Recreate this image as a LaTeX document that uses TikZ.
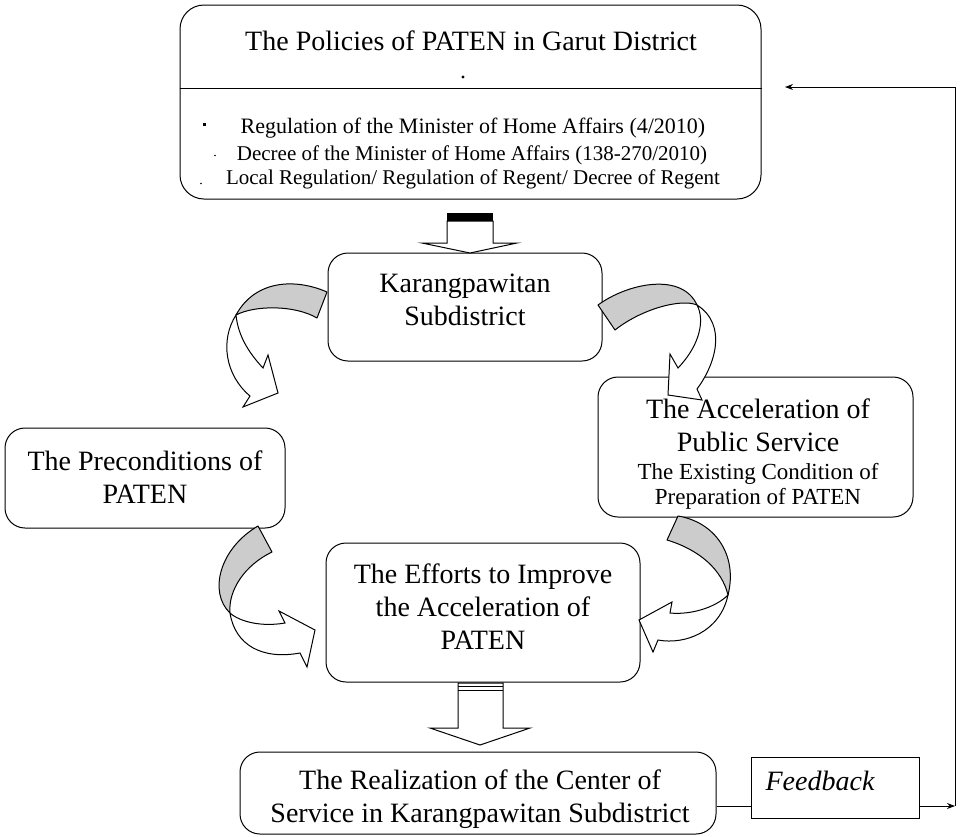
\documentclass[tikz,border=0pt]{standalone}
\usepackage{fontspec}
\setmainfont{Liberation Serif}
\usetikzlibrary{arrows.meta}
\begin{document}
\begin{tikzpicture}[x=1pt,y=-1pt,
  box/.style={draw, line width=1pt, rounded corners=20pt, fill=white, inner sep=0pt},
  plainbox/.style={draw, line width=1pt, fill=white, inner sep=0pt},
  lbl/.style={font=\fontsize{28}{33}\selectfont, align=center, inner sep=0pt},
  lblsmall/.style={font=\fontsize{23}{25}\selectfont, align=center, inner sep=0pt},
  bul/.style={font=\fontsize{21}{25}\selectfont, inner sep=0pt, anchor=base},
  back/.style={draw, line width=1pt, fill=gray!40, line join=round},
  front/.style={draw, line width=1pt, fill=white, line join=miter},
  block/.style={draw, line width=1pt, fill=white, line join=miter},
  conn/.style={draw, line width=1pt},
  tip/.style={-{Stealth[length=8pt,width=6pt]}}
]
\useasboundingbox (0,0) rectangle (960,836);

% ---- boxes
\node[box, rounded corners=24pt, minimum width=581pt, minimum height=194pt] (policy) at (470.5,102) {};
\draw[conn] (policy.west |- 0,88) -- (policy.east |- 0,88);
\node[box, minimum width=274pt, minimum height=108pt] (karang) at (465,307) {};
\node[box, minimum width=280pt, minimum height=100pt] (precond) at (145,478) {};
\node[box, minimum width=315pt, minimum height=140pt] (accel) at (755.5,447) {};
\node[box, minimum width=314pt, minimum height=139pt] (efforts) at (483,612.5) {};
\node[box, minimum width=476pt, minimum height=82pt] (realiz) at (478,793) {};
\node[plainbox, minimum width=168pt, minimum height=61pt] (feedback) at (835,787.5) {};

% ---- block arrows
\path[block] (447,221) -- (493,221) -- (493,243) -- (517,243) -- (470,253) -- (422,243) -- (447,243) -- cycle;
\fill (447,213) rectangle (493,221);
\path[block] (458,683) -- (503,683) -- (503,728) -- (530,728) -- (480,745) -- (430,728) -- (458,728) -- cycle;
\draw[line width=1pt] (458,686.5) -- (503,686.5);
\draw[line width=1pt] (458,690) -- (503,690);

% ---- curved arrows
% 1: Karangpawitan -> Preconditions
\path[back] (327,292) .. controls (295,278) and (255,280) .. (236,315) .. controls (255,305) and (295,305) .. (317,318) -- cycle;
\path[front] (236,315) .. controls (220,340) and (225,375) .. (250,396) -- (243,407) -- (278,393) -- (268,355) -- (263,368) .. controls (248,352) and (238,335) .. (236,315) -- cycle;
% 2: Karangpawitan -> Acceleration
\path[back] (598,305) .. controls (628,283) and (682,272) .. (697,305) .. controls (680,298) and (640,310) .. (615,330) -- cycle;
\path[front] (697,305) .. controls (705,320) and (700,345) .. (678,368) -- (670,354) -- (668,395) -- (702,400) -- (697,389) .. controls (715,365) and (728,325) .. (697,305) -- cycle;
% 3: Preconditions -> Efforts
\path[back] (258,526) .. controls (220,548) and (208,592) .. (230,613) .. controls (228,590) and (245,565) .. (272,552) -- cycle;
\path[front] (230,613) .. controls (240,622) and (262,627) .. (285,623) -- (279,611) -- (315,630) -- (307,667) -- (300,653) .. controls (262,660) and (235,645) .. (230,613) -- cycle;
% 4: Acceleration -> Efforts
\path[back] (678,516) .. controls (715,522) and (738,555) .. (728,595) .. controls (722,570) and (700,550) .. (667,540) -- cycle;
\path[front] (728,595) .. controls (715,608) and (690,615) .. (670,613) -- (672,602) -- (639,620) -- (653,652) -- (658,640) .. controls (685,645) and (720,632) .. (728,595) -- cycle;

% ---- texts
\node[font=\fontsize{28}{33}\selectfont, inner sep=0pt, anchor=base] (title) at (471,50) {The Policies of PATEN in Garut District};
\fill (463,77) circle (1.6pt);
\fill (202.5,122.5) rectangle (205.5,125.5);
\fill (215,155.5) circle (0.9pt);
\fill (201,183.5) circle (0.9pt);
\node[bul, font=\fontsize{22}{25}\selectfont] (reg1) at (473,133) {Regulation of the Minister of Home Affairs (4/2010)};
\node[bul] (reg2) at (472,160) {Decree of the Minister of Home Affairs (138-270/2010)};
\node[bul] (reg3) at (473,184) {Local Regulation/ Regulation of Regent/ Decree of Regent};

\node[lbl] (karangT) at (465,300) {Karangpawitan\\Subdistrict};
\node[lbl] (precondT) at (145,477.5) {The Preconditions of\\PATEN};
\node[lbl] (accelT) at (758,425) {The Acceleration of\\Public Service};
\node[lblsmall] (accelS) at (758,486) {The Existing Condition of\\Preparation of PATEN};
\node[lbl] (effortsT) at (483,606.5) {The Efforts to Improve\\the Acceleration of\\PATEN};
\node[lbl] (realizT) at (480,799.5) {The Realization of the Center of\\Service in Karangpawitan Subdistrict};
\node[font=\fontsize{28}{33}\selectfont\itshape, inner sep=0pt, anchor=base] (fbT) at (820,790) {Feedback};

% ---- feedback loop
\coordinate (fbbottom) at (955,806);
\coordinate (fbcorner) at (955,87);
\coordinate (fbtip) at (785,87);
\draw[conn] (realiz.east |- fbbottom) -- (feedback.west |- fbbottom);
\draw[conn, tip] (feedback.east |- fbbottom) -- (fbbottom);
\draw[conn, tip] (fbbottom) -- (fbcorner) -- (fbtip);
\end{tikzpicture}
\end{document}
